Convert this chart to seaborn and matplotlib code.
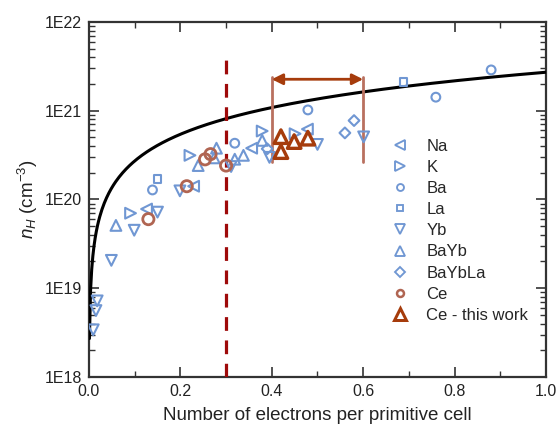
import numpy as np
import pandas as pd
import matplotlib
matplotlib.use("Agg")
import matplotlib.pyplot as plt
from matplotlib.lines import Line2D
from matplotlib.ticker import FixedLocator, LogLocator, NullFormatter, MultipleLocator
import seaborn as sns

# Hall carrier density vs. electrons per primitive cell (filled CoSb3 skutterudites)
na_x = [0.126, 0.229, 0.356, 0.478]
na_n = [7.8e19, 1.41e20, 3.78e20, 6.2e20]

k_x = [0.091, 0.221, 0.379, 0.451]
k_n = [7.0e19, 3.14e20, 5.9e20, 5.5e20]

ba_x = [0.139, 0.319, 0.479, 0.759, 0.880]
ba_n = [1.28e20, 4.3e20, 1.02e21, 1.42e21, 2.88e21]

la_x = [0.150, 0.688]
la_n = [1.71e20, 2.09e21]

yb_x = [0.0094, 0.0153, 0.018, 0.049, 0.099, 0.150, 0.199, 0.311, 0.395, 0.500, 0.601]
yb_n = [3.4e18, 5.6e18, 7.2e18, 2.06e19, 4.5e19, 7.2e19, 1.25e20, 2.35e20, 2.98e20, 4.17e20, 5.07e20]

bayb_x = [0.059, 0.239, 0.274, 0.279, 0.319, 0.338, 0.379]
bayb_n = [5.1e19, 2.41e20, 2.94e20, 3.78e20, 2.84e20, 3.14e20, 4.63e20]

baybla_x = [0.390, 0.560, 0.580]
baybla_n = [3.72e20, 5.62e20, 7.74e20]

ce_x = [0.130, 0.214, 0.254, 0.266, 0.300]
ce_n = [6.0e19, 1.41e20, 2.83e20, 3.24e20, 2.41e20]

ce_new_x = [0.420, 0.420, 0.449, 0.479]
ce_new_n = [5.1e20, 3.46e20, 4.49e20, 4.9e20]

x_ticks = [0.0, 0.2, 0.4, 0.6, 0.8, 1.0]
x_tick_labels = ["0.0", "0.2", "0.4", "0.6", "0.8", "1.0"]
y_ticks = [1e18, 1e19, 1e20, 1e21, 1e22]
y_tick_labels = ["1E18", "1E19", "1E20", "1E21", "1E22"]

# rigid-band estimate: n = electrons / primitive cell volume (bcc, a = 9.035 Å)
lattice_a_cm = 9.035e-8
cell_volume = lattice_a_cm ** 3 / 2.0

# marked composition window and threshold
threshold_x = 0.3
window_x = [0.4, 0.6]
window_n = [2.65e20, 2.4e21]
arrow_n = 2.26e21

sns.set_theme(style="ticks")
plt.rcParams["font.family"] = ["Liberation Sans", "DejaVu Sans"]
plt.rcParams["mathtext.fontset"] = "custom"
plt.rcParams["mathtext.rm"] = "Liberation Sans"
plt.rcParams["mathtext.it"] = "Liberation Sans:italic"

fig = plt.figure(figsize=(5.56, 4.30), dpi=100)
ax = fig.add_axes([0.160, 0.1233, 0.822, 0.8257])

blue = "#7097d3"
ce_col = "#b06552"
new_col = "#a63c0c"

# theory line
line_x = np.linspace(0.001, 1.0, 400)
line_df = pd.DataFrame({"x": line_x, "n": line_x / cell_volume})
sns.lineplot(data=line_df, x="x", y="n", ax=ax, color="black", linewidth=2.2,
             zorder=3, estimator=None, sort=False)

series = [
    ("Na", na_x, na_n, "<", blue, 1.5, 60),
    ("K", k_x, k_n, ">", blue, 1.5, 60),
    ("Ba", ba_x, ba_n, "o", blue, 1.5, 40),
    ("La", la_x, la_n, "s", blue, 1.5, 30),
    ("Yb", yb_x, yb_n, "v", blue, 1.5, 60),
    ("BaYb", bayb_x, bayb_n, "^", blue, 1.5, 60),
    ("BaYbLa", baybla_x, baybla_n, "D", blue, 1.5, 30),
    ("Ce", ce_x, ce_n, "o", ce_col, 2.0, 65),
    ("Ce - this work", ce_new_x, ce_new_n, "^", new_col, 2.4, 95),
]

handles = []
for name, xs, ns, mk, col, lw, sz in series:
    df = pd.DataFrame({"x": xs, "n": ns})
    sns.scatterplot(data=df, x="x", y="n", ax=ax, marker=mk, s=sz,
                    facecolor="none", edgecolor=col, linewidth=lw, zorder=5)
    handles.append(Line2D([], [], linestyle="none", marker=mk,
                          markersize=(6.5 if mk in "<>v^" else 5.0) if name != "Ce - this work" else 8,
                          markerfacecolor="none", markeredgecolor=col,
                          markeredgewidth=lw * 0.9, label=name))

# threshold line
ax.plot([threshold_x, threshold_x], [1e18, 4.2e21], color="#9e0a0a",
        linewidth=2.3, dashes=(4.3, 3.0), zorder=4)

# composition window with double arrow
for wx in window_x:
    ax.plot([wx, wx], window_n, color="#b9705f", linewidth=2.0, zorder=4)
ax.annotate("", xy=(window_x[1], arrow_n), xytext=(window_x[0], arrow_n),
            arrowprops=dict(arrowstyle="<|-|>", color=new_col, lw=2.0,
                            mutation_scale=16, shrinkA=0, shrinkB=0), zorder=6)

ax.set_yscale("log")
ax.set_xlim(0.0, 1.0)
ax.set_ylim(1e18, 1e22)
ax.set_xticks(x_ticks)
ax.set_xticklabels(x_tick_labels)
ax.xaxis.set_minor_locator(MultipleLocator(0.1))
ax.yaxis.set_major_locator(FixedLocator(y_ticks))
ax.set_yticklabels(y_tick_labels)
ax.yaxis.set_minor_locator(LogLocator(base=10, subs=np.arange(2, 10), numticks=20))
ax.yaxis.set_minor_formatter(NullFormatter())

ax.tick_params(which="both", direction="in", top=True, right=True,
               color="#333333", labelsize=11.5, labelcolor="#222222", pad=5)
ax.tick_params(which="major", length=7, width=1.2)
ax.tick_params(which="minor", length=4, width=1.0)
for sp in ax.spines.values():
    sp.set_color("#333333")
    sp.set_linewidth(1.6)

ax.set_xlabel("Number of electrons per primitive cell", fontsize=13.5, color="#222222", labelpad=6)
ax.set_ylabel(r"$n_H$ (cm$^{-3}$)", fontsize=13.5, color="#222222", labelpad=3)

ax.legend(handles=handles, loc="upper left", bbox_to_anchor=(0.645, 0.69),
          frameon=False, fontsize=12, handlelength=1.2, handletextpad=0.95,
          labelspacing=0.37, borderaxespad=0)

fig.savefig("out.png", dpi=100)
